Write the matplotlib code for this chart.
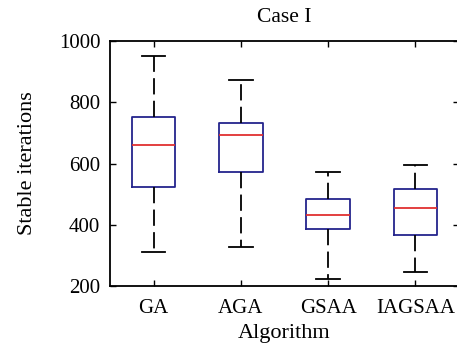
import matplotlib
matplotlib.use("Agg")
import matplotlib.pyplot as plt

# Values
algorithms = ["GA", "AGA", "GSAA", "IAGSAA"]
whisker_low = [312, 326, 222, 247]
q1 = [522, 572, 386, 366]
medians = [660, 692, 433, 456]
q3 = [752, 732, 484, 516]
whisker_high = [952, 874, 572, 594]

plt.rcParams['font.family'] = ['Liberation Serif', 'DejaVu Serif']

fig = plt.figure(figsize=(4.57, 3.49), dpi=100)
ax = fig.add_axes([0.2407, 0.1805, 0.7637, 0.702])

stats = []
for name, lo, a, m, b, hi in zip(algorithms, whisker_low, q1, medians, q3, whisker_high):
    stats.append({"label": name, "whislo": lo, "q1": a, "med": m, "q3": b,
                  "whishi": hi, "fliers": []})

box_color = "#24248c"
ax.bxp(stats, widths=0.5, showfliers=False, capwidths=0.27,
       boxprops=dict(color=box_color, linewidth=1.3),
       medianprops=dict(color="#e03030", linewidth=1.3),
       whiskerprops=dict(color="black", linewidth=1.3, linestyle=(0, (9, 3.5))),
       capprops=dict(color="black", linewidth=1.3))

ax.set_xlim(0.5, 4.5)
ax.set_ylim(200, 1000)
ax.set_yticks([200, 400, 600, 800, 1000])
ax.tick_params(direction="in", top=True, right=True, length=4, width=1,
               labelsize=15)
ax.tick_params(axis="x", pad=9.5)
ax.tick_params(axis="y", pad=7)
for sp in ax.spines.values():
    sp.set_linewidth(1.3)

ax.set_title("Case I", fontsize=15.5, pad=14)
ax.set_xlabel("Algorithm", fontsize=16, labelpad=4)
ax.set_ylabel("Stable iterations", fontsize=16, labelpad=16)

fig.savefig("out.png", dpi=100)
